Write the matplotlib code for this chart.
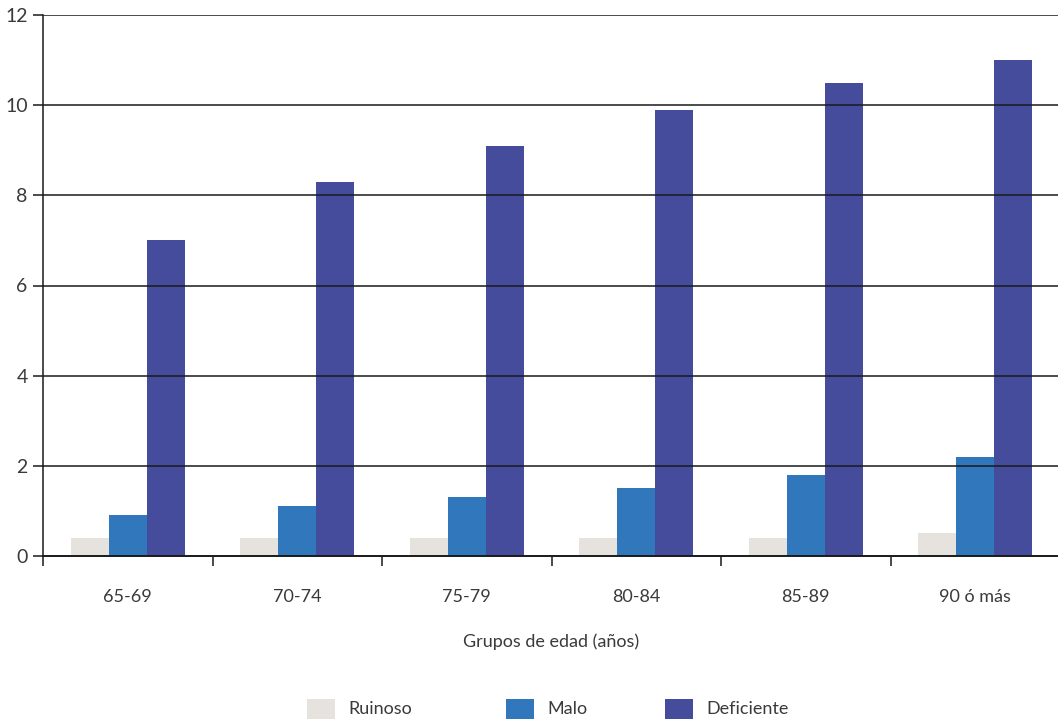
import matplotlib
matplotlib.use("Agg")
import matplotlib.pyplot as plt
import numpy as np
from matplotlib.patches import Rectangle

categories = ["65-69", "70-74", "75-79", "80-84", "85-89", "90 ó más"]
series_names = ["Ruinoso", "Malo", "Deficiente"]
ruinoso = [0.4, 0.4, 0.4, 0.4, 0.4, 0.5]
malo = [0.9, 1.1, 1.3, 1.5, 1.8, 2.2]
deficiente = [7.0, 8.3, 9.1, 9.9, 10.5, 11.0]
colors = ["#E6E3DF", "#3077BB", "#464C9C"]
yticks = [0, 2, 4, 6, 8, 10, 12]

plt.rcParams['font.family'] = ['Lato', 'DejaVu Sans']
txt = "#3a3a3a"

fig = plt.figure(figsize=(10.58, 7.19), dpi=100)
W, H = 1058, 719
ax = fig.add_axes([43 / W, 1 - 556 / H, 1017 / W, 541 / H])

x = np.arange(len(categories))
bw = 0.2235
for i, (vals, c) in enumerate(zip([ruinoso, malo, deficiente], colors)):
    ax.bar(x + (i - 1) * bw, vals, width=bw, color=c, zorder=1, linewidth=0)

ax.set_ylim(0, 12)
ax.set_xlim(-0.5, len(categories) - 0.5)
ax.set_yticks(yticks)
for y in yticks[1:]:
    ax.axhline(y, color="#1a1a1a", lw=1.1, zorder=3)

ax.set_xticks(x)
ax.set_xticklabels(categories)
ax.set_xticks(np.arange(-0.5, len(categories) - 0.4, 1), minor=True)
ax.tick_params(axis='x', which='major', length=0, pad=24, labelsize=13, labelcolor=txt)
ax.tick_params(axis='x', which='minor', length=7, width=1.1, direction='out', color="#1a1a1a")
ax.tick_params(axis='y', length=7, width=1.1, color="#1a1a1a", labelsize=14, labelcolor=txt, pad=4)

for s in ['top', 'right']:
    ax.spines[s].set_visible(False)
ax.spines['left'].set_linewidth(1.1)
ax.spines['bottom'].set_linewidth(1.4)
ax.spines['left'].set_color("#1a1a1a")
ax.spines['bottom'].set_color("#1a1a1a")
ax.spines['bottom'].set_zorder(4)

ax.set_xlabel("Grupos de edad (años)", fontsize=13, color=txt, labelpad=20)

# legend drawn manually at reference positions
legend_x = [307, 506, 665]
for lx, name, c in zip(legend_x, series_names, colors):
    fig.patches.append(Rectangle((lx / W, 0), 28 / W, 20 / H, transform=fig.transFigure,
                                 facecolor=c, edgecolor='none'))
    fig.text((lx + 41) / W, 1 - 709 / H, name, fontsize=13, color=txt, va='center', ha='left')

fig.savefig("out.png", dpi=100)
